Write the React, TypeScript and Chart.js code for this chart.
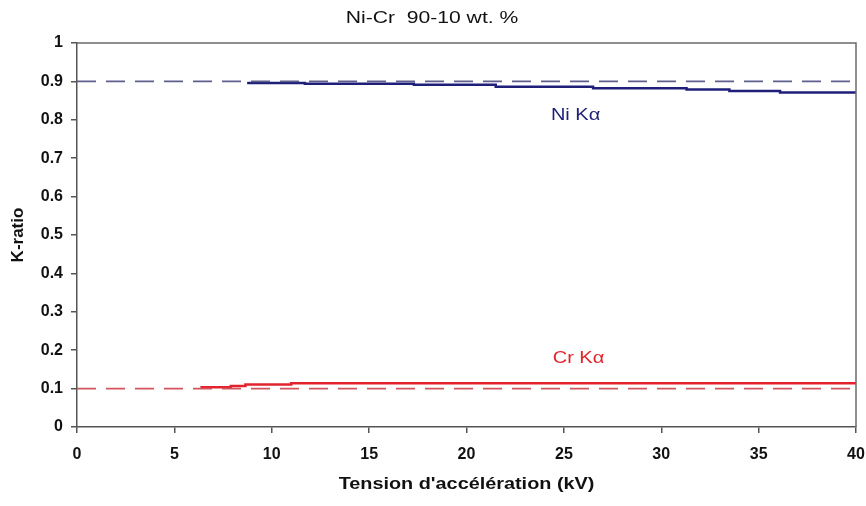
import React, { useEffect, useRef } from "react";
import { Chart, registerables } from "chart.js";

Chart.register(...registerables);

const TITLE = "Ni-Cr  90-10 wt. %";
const X_TITLE = "Tension d'accélération (kV)";
const Y_TITLE = "K-ratio";

const X_TICKS = [0, 5, 10, 15, 20, 25, 30, 35, 40];
const Y_TICKS = [0, 0.1, 0.2, 0.3, 0.4, 0.5, 0.6, 0.7, 0.8, 0.9, 1];

const NI_X = [8.8, 11.7, 17.3, 21.5, 26.5, 31.3, 33.5, 36.1, 38.6, 40];
const NI_Y = [0.899, 0.896, 0.894, 0.891, 0.886, 0.882, 0.879, 0.875, 0.871, 0.871];

const CR_X = [6.4, 7.9, 8.65, 11.0, 16.5, 40];
const CR_Y = [0.107, 0.1035, 0.107, 0.111, 0.114, 0.114];

const NI_REF = 0.9;
const CR_REF = 0.1;

const NI_LABEL = { text: "Ni K\u03b1", x: 25.6, y: 0.81 };
const CR_LABEL = { text: "Cr K\u03b1", x: 25.75, y: 0.177 };

const NAVY = "#1f1f7a";
const NAVY_DASH = "#5e5e8c";
const RED = "#e3232c";
const RED_DASH = "#d2545c";
const AXIS = "#555555";
const FONT = "'Liberation Sans', Arial, sans-serif";

function stretchText(ctx: any, text: string, x: number, y: number, font: string, color: string, sx: number) {
  ctx.save();
  ctx.font = font;
  ctx.fillStyle = color;
  ctx.textAlign = "center";
  ctx.textBaseline = "middle";
  ctx.translate(x, y);
  ctx.scale(sx, 1);
  ctx.fillText(text, 0, 0);
  ctx.restore();
}

export default function App() {
  const ref = useRef<HTMLCanvasElement | null>(null);

  useEffect(() => {
    const canvas = ref.current;
    if (!canvas) return;

    const toPts = (xs: number[], ys: number[]) => xs.map((x, i) => ({ x, y: ys[i] }));

    const decor = {
      id: "decor",
      afterDatasetsDraw(chart: any) {
        const { ctx, chartArea, scales } = chart;
        ctx.save();
        ctx.strokeStyle = "#6a6a6a";
        ctx.lineWidth = 1.5;
        ctx.beginPath();
        ctx.moveTo(chartArea.left, chartArea.top);
        ctx.lineTo(chartArea.right, chartArea.top);
        ctx.lineTo(chartArea.right, chartArea.bottom);
        ctx.stroke();
        ctx.restore();
        const cx = (chartArea.left + chartArea.right) / 2;
        stretchText(ctx, TITLE, 432, 19, `16px ${FONT}`, "#111", 1.32);
        stretchText(ctx, X_TITLE, cx, 485, `bold 16px ${FONT}`, "#111", 1.24);
        stretchText(ctx, NI_LABEL.text, scales.x.getPixelForValue(NI_LABEL.x), scales.y.getPixelForValue(NI_LABEL.y), `16px ${FONT}`, NAVY, 1.25);
        stretchText(ctx, CR_LABEL.text, scales.x.getPixelForValue(CR_LABEL.x), scales.y.getPixelForValue(CR_LABEL.y), `16px ${FONT}`, RED, 1.25);
      },
    };

    const chart = new Chart(canvas, {
      type: "line",
      data: {
        datasets: [
          {
            data: [{ x: 0, y: NI_REF }, { x: 40, y: NI_REF }],
            borderColor: NAVY_DASH,
            borderWidth: 1.8,
            borderDash: [19, 10],
            pointRadius: 0,
          },
          {
            data: [{ x: 0, y: CR_REF }, { x: 40, y: CR_REF }],
            borderColor: RED_DASH,
            borderWidth: 1.8,
            borderDash: [19, 10],
            pointRadius: 0,
          },
          {
            data: toPts(NI_X, NI_Y),
            borderColor: NAVY,
            borderWidth: 2.5,
            stepped: "after",
            pointRadius: 0,
          },
          {
            data: toPts(CR_X, CR_Y),
            borderColor: RED,
            borderWidth: 2.5,
            stepped: "after",
            pointRadius: 0,
          },
        ],
      },
      options: {
        responsive: false,
        animation: false,
        devicePixelRatio: 1,
        layout: { padding: { top: 43, right: 10, left: 0, bottom: 0 } },
        plugins: { legend: { display: false }, tooltip: { enabled: false }, title: { display: false } },
        scales: {
          x: {
            type: "linear",
            min: 0,
            max: 40,
            afterBuildTicks: (s: any) => {
              s.ticks = X_TICKS.map((v) => ({ value: v }));
            },
            afterFit: (s: any) => {
              s.height = 79;
              s.paddingRight = 0;
              s.paddingLeft = 0;
            },
            ticks: {
              color: "#111",
              font: { family: FONT, size: 16, weight: "bold" },
              padding: 12,
              maxRotation: 0,
              callback: (v: any) => String(v),
            },
            grid: { display: true, drawOnChartArea: false, drawTicks: true, tickLength: 6, color: AXIS, lineWidth: 1.5 },
            border: { display: true, color: AXIS, width: 1.5 },
            title: { display: false },
          },
          y: {
            type: "linear",
            min: 0,
            max: 1,
            afterBuildTicks: (s: any) => {
              s.ticks = Y_TICKS.map((v) => ({ value: v }));
            },
            afterFit: (s: any) => {
              s.width = 77;
              s.paddingTop = 0;
              s.paddingBottom = 0;
            },
            ticks: {
              color: "#111",
              font: { family: FONT, size: 16, weight: "bold" },
              padding: 8,
              callback: (v: any) => String(Math.round(Number(v) * 10) / 10),
            },
            grid: { display: true, drawOnChartArea: false, drawTicks: true, tickLength: 6, color: AXIS, lineWidth: 1.5 },
            border: { display: true, color: AXIS, width: 1.5 },
            title: {
              display: true,
              text: Y_TITLE,
              color: "#111",
              font: { family: FONT, size: 17, weight: "bold" },
              padding: { top: 8, bottom: 0 },
            },
          },
        },
      },
      plugins: [decor],
    } as any);

    return () => chart.destroy();
  }, []);

  return (
    <div style={{ position: "absolute", left: 0, top: 0, width: 866, height: 506, background: "#fff" }}>
      <canvas ref={ref} width={866} height={506} style={{ display: "block", width: 866, height: 506 }} />
    </div>
  );
}
